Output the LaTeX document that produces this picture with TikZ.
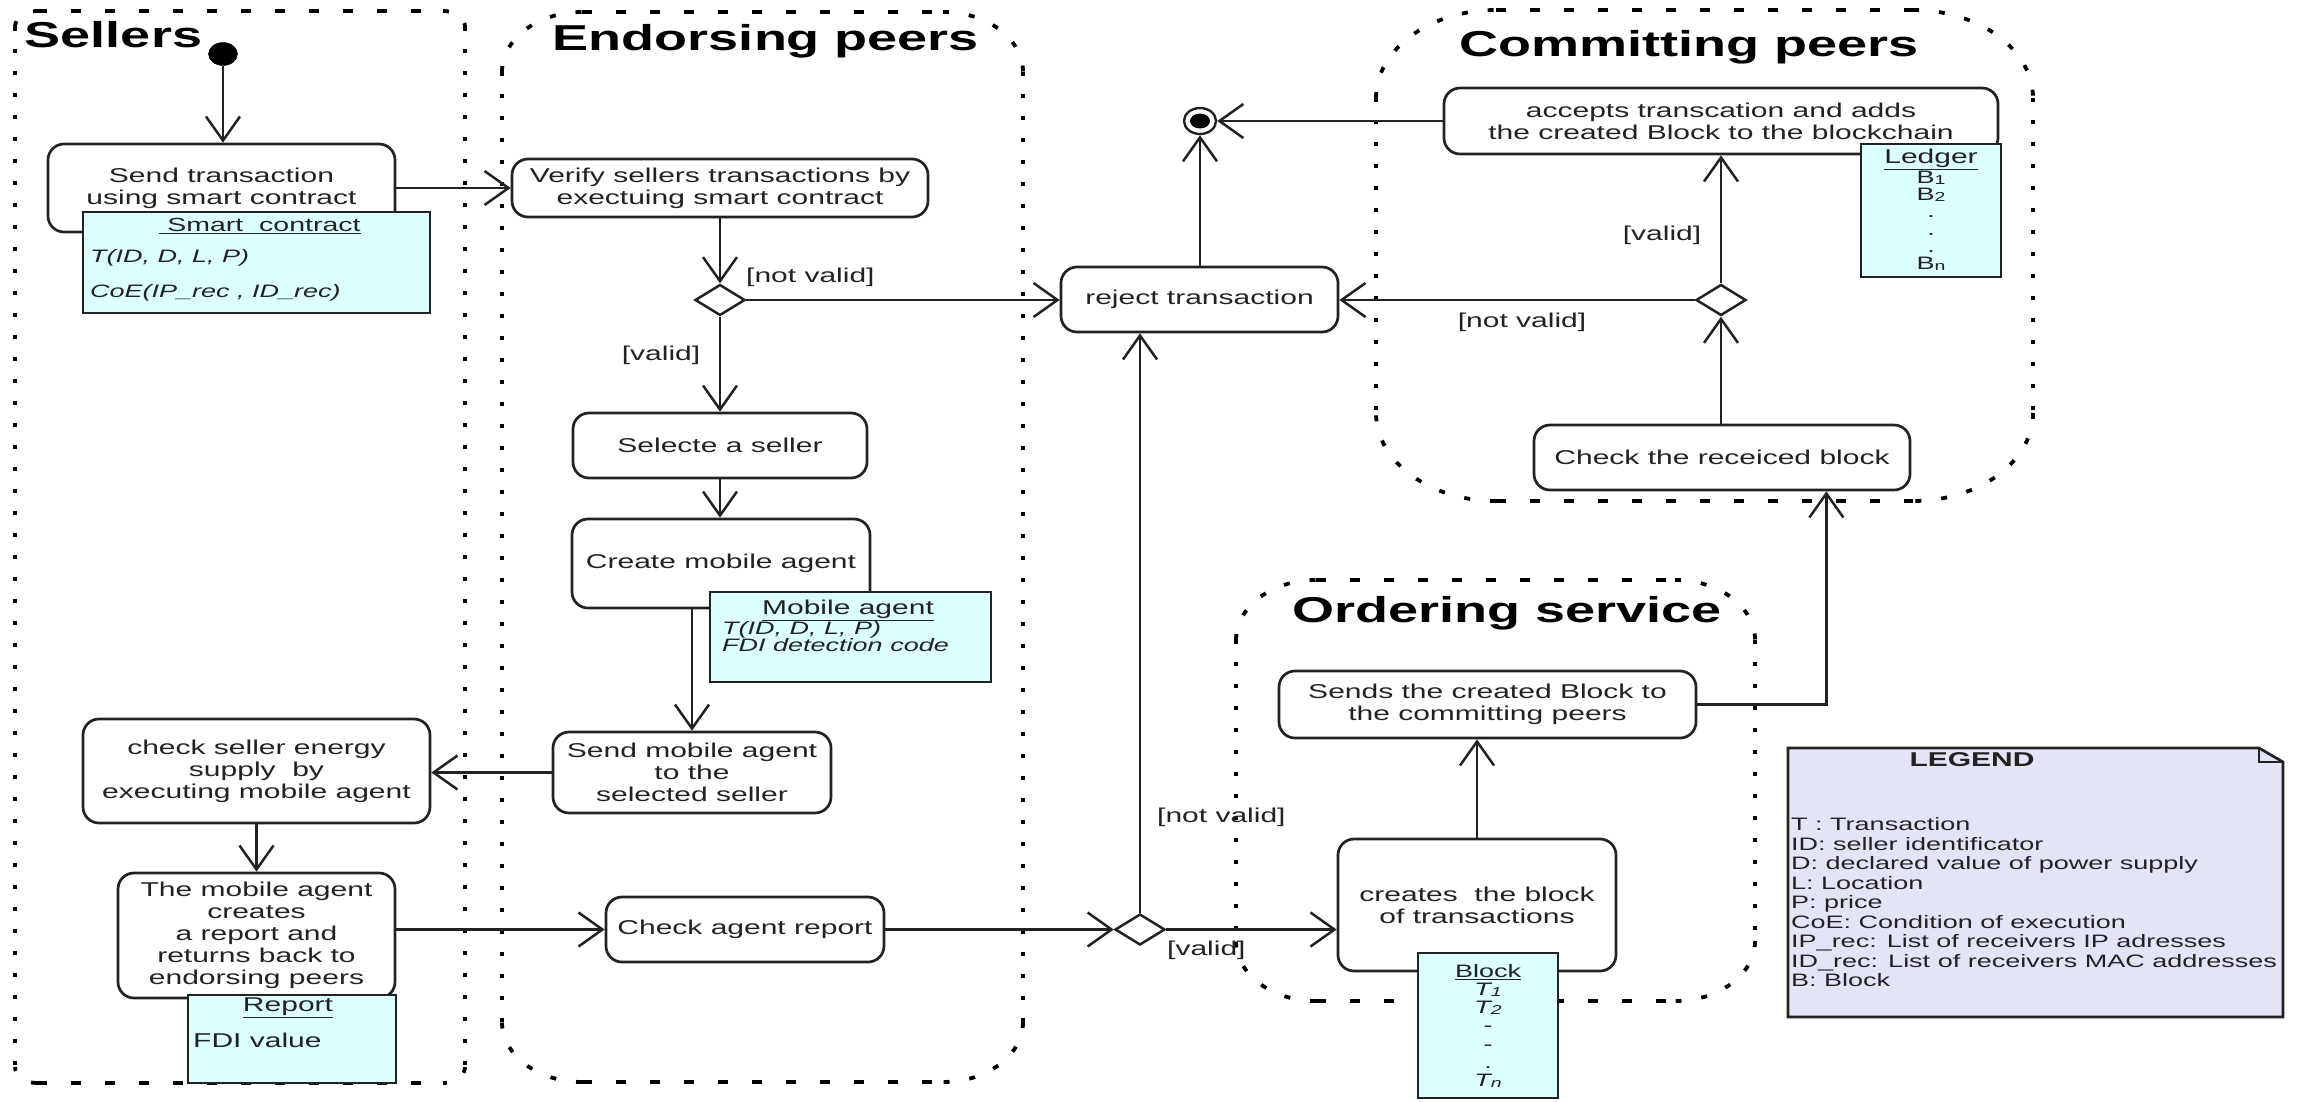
\documentclass[tikz,border=0pt]{standalone}
\usepackage{fontspec}
\setmainfont{Liberation Sans}[FakeStretch=1.5]
\usetikzlibrary{arrows.meta,shapes.geometric}
\definecolor{ink}{HTML}{222222}
\definecolor{notefill}{HTML}{DCFFFF}
\definecolor{legendfill}{HTML}{E4E4F8}
% lane frame: x1 y1 x2 y2 rx ry
\newcommand\myLaneFrame[6]{%
  \draw[lanev] (#1,#2+#6) -- (#1,#4-#6);
  \draw[lanev] (#3,#2+#6) -- (#3,#4-#6);
  \draw[laneh] (#1+#5,#2) -- (#3-#5,#2);
  \draw[laneh] (#1+#5,#4) -- (#3-#5,#4);
  \draw[lanec] (#1,#2+#6) arc[start angle=180,end angle=270,x radius=#5,y radius=#6];
  \draw[lanec] (#3-#5,#2) arc[start angle=270,end angle=360,x radius=#5,y radius=#6];
  \draw[lanec] (#3,#4-#6) arc[start angle=0,end angle=90,x radius=#5,y radius=#6];
  \draw[lanec] (#1+#5,#4) arc[start angle=90,end angle=180,x radius=#5,y radius=#6];
}
\begin{document}
\begin{tikzpicture}[x=1pt,y=-1pt,
  act/.style={draw=ink, line width=2.7pt, rounded corners=16pt, fill=white, inner sep=0pt,
    align=center, font=\fontsize{20}{22}\selectfont, text=ink},
  note/.style={draw=ink, line width=2.7pt, fill=notefill, inner sep=0pt},
  arr/.style={draw=ink, line width=2.5pt, -{Straight Barb[length=24pt,width=34pt,line width=2.5pt]}},
  lanev/.style={draw=black, line width=4pt, dash pattern=on 4pt off 18pt},
  laneh/.style={draw=black, line width=3.5pt, dash pattern=on 10pt off 24pt},
  lanec/.style={draw=black, line width=3.8pt, dash pattern=on 6pt off 20pt},
  lanetitle/.style={font=\fontsize{36}{40}\selectfont\bfseries, text=black, anchor=base, inner sep=0pt},
  guard/.style={font=\fontsize{20}{22}\selectfont, text=ink, inner sep=0pt},
  notetxt/.style={font=\fontsize{18}{17}\selectfont, text=ink, inner sep=0pt},
  notehead/.style={font=\fontsize{20}{20}\selectfont, text=ink, inner sep=0pt},
  dec/.style={diamond, draw=ink, line width=2.5pt, fill=white, minimum width=50pt,
    minimum height=31pt, inner sep=0pt, shape aspect=1.6},
  legtxt/.style={font=\fontsize{18}{19.5}\selectfont, text=ink, inner sep=0pt, align=left}
]
\useasboundingbox (0,0) rectangle (2298,1101);

% ---------- swimlanes ----------
\myLaneFrame{15}{11}{465}{1083}{22}{16}
\myLaneFrame{502}{12}{1023}{1082}{80}{60}
\myLaneFrame{1376}{10}{2033}{501}{120}{88}
\myLaneFrame{1236}{580}{1755}{1001}{80}{60}

\node[lanetitle] (tsell) at (113.5,47) {Sellers};
\node[lanetitle] (tend) at (766,50) {Endorsing peers};
\node[lanetitle] (tcom) at (1689,56) {Committing peers};
\node[lanetitle] (tord) at (1507,622) {Ordering service};

% ---------- activity nodes ----------
\node[ellipse, fill=black, draw=black, minimum width=29pt, minimum height=23pt, inner sep=0pt] (init) at (223,54) {};
\node[act, minimum width=347pt, minimum height=88pt] (send) at (221.5,188) {Send transaction\\using smart contract};
\node[act, minimum width=416pt, minimum height=58pt] (verify) at (720,188) {Verify sellers transactions by\\exectuing smart contract};
\node[dec] (d1) at (720,300) {};
\node[act, minimum width=294pt, minimum height=65pt] (selecte) at (720,445.5) {Selecte a seller};
\node[act, minimum width=298pt, minimum height=89pt] (create) at (721,563.5) {Create mobile agent};
\node[act, minimum width=278pt, minimum height=81pt] (sendma) at (692,772.5) {Send mobile agent\\to the\\selected seller};
\node[act, minimum width=347pt, minimum height=104pt] (checkseller) at (256.5,771) {check seller energy\\supply\ \ by\\executing mobile agent};
\node[act, minimum width=277pt, minimum height=125pt] (mobcreates) at (256.5,935.5) {The mobile agent\\creates\\a report and\\returns back to\\endorsing peers};
\node[act, minimum width=278pt, minimum height=65pt] (checkagent) at (745,929.5) {Check agent report};
\node[dec] (d2) at (1140,929.5) {};
\node[act, minimum width=277pt, minimum height=65pt] (reject) at (1199.5,299.5) {reject transaction};
\node[ellipse, draw=ink, line width=2.4pt, fill=white, minimum width=32pt, minimum height=26pt, inner sep=0pt] (final) at (1200,121) {};
\node[ellipse, fill=black, minimum width=20pt, minimum height=15pt, inner sep=0pt] (finaldot) at (1200,121) {};
\node[act, minimum width=554pt, minimum height=66pt] (accepts) at (1721,121) {accepts transcation and adds\\the created Block to the blockchain};
\node[dec] (d3) at (1721,300) {};
\node[act, minimum width=376pt, minimum height=65pt] (checkblock) at (1722,457.5) {Check the receiced block};
\node[act, minimum width=417pt, minimum height=67pt] (sends) at (1487.5,704.5) {Sends the created Block to\\the committing peers};
\node[act, minimum width=278pt, minimum height=132pt] (cblock) at (1477,905) {creates\ \ the block\\of transactions};

% ---------- notes ----------
\node[note, minimum width=347pt, minimum height=101pt] (smart) at (256.5,262.5) {};
\node[notehead, font=\fontsize{19}{19}\selectfont] (smarth) at (260,226) {\underline{\ Smart\ \ contract}};
\node[notetxt, anchor=west, font=\fontsize{18}{17}\selectfont\itshape] (smart1) at (90,258) {T(ID, D, L, P)};
\node[notetxt, anchor=west, font=\fontsize{18}{17}\selectfont\itshape] (smart2) at (90,293) {CoE(IP\_rec , ID\_rec)};

\node[note, minimum width=281pt, minimum height=90pt] (mobnote) at (850.5,637) {};
\node[notehead] (mobh) at (848,610) {\underline{Mobile agent}};
\node[notetxt, anchor=north west, align=left, font=\fontsize{18}{17}\selectfont\itshape] (mobbody) at (722,621) {T(ID, D, L, P)\\FDI detection code};

\node[note, minimum width=208pt, minimum height=88pt] (report) at (292,1039) {};
\node[notehead] (reph) at (288,1008) {\underline{Report}};
\node[notehead, anchor=west] (repbody) at (193,1040) {FDI value};

\node[note, minimum width=140pt, minimum height=133pt] (ledger) at (1931,210.5) {};
\node[notetxt, anchor=north, align=center, font=\fontsize{18}{17.3}\selectfont] (ledbody) at (1931,149)
  {\underline{\fontsize{20}{17.3}\selectfont Ledger}\\B\raisebox{-1pt}{\fontsize{13}{13}\selectfont 1}\\B\raisebox{-1pt}{\fontsize{13}{13}\selectfont 2}\\.\\.\\.\\B\raisebox{-1pt}{\fontsize{13}{13}\selectfont n}};

\node[note, minimum width=140pt, minimum height=145pt] (blocknote) at (1488,1025.5) {};
\node[notetxt, anchor=north, align=center, font=\fontsize{18}{18.2}\selectfont] (blockbody) at (1488,964)
  {\underline{Block}\\\textit{T\raisebox{-1pt}{\fontsize{13}{13}\selectfont 1}}\\\textit{T\raisebox{-1pt}{\fontsize{13}{13}\selectfont 2}}\\-\\-\\.\\\textit{T\raisebox{-1pt}{\fontsize{13}{13}\selectfont n}}};

% ---------- legend ----------
\draw[ink, line width=2.7pt, fill=legendfill] (1788,748) -- (2259,748) -- (2283,762) -- (2283,1017) -- (1788,1017) -- cycle;
\draw[ink, line width=2pt] (2259,748) -- (2259,762) -- (2283,762);
\node[font=\fontsize{20}{22}\selectfont\bfseries, text=ink, inner sep=0pt] (legh) at (1972,760) {LEGEND};
\node[legtxt, anchor=north west] (legbody) at (1791,817.5) {T : Transaction\\ID: seller identificator\\D: declared value of power supply\\L: Location\\P: price\\CoE: Condition of execution\\IP\_rec: List of receivers IP adresses\\ID\_rec: List of receivers MAC addresses\\B: Block};

% ---------- connectors ----------
\draw[arr] (init.south) -- (init.south |- send.north);
\draw[arr] (send.east) -- (verify.west);
\draw[arr] (verify.south) -- (d1.north);
\draw[arr] (d1.east) -- (d1.east -| reject.west);
\draw[arr] (d1.south) -- (selecte.north);
\draw[arr] (selecte.south) -- (selecte.south |- create.north);
\draw[arr] (create.south -| sendma.north) -- (sendma.north);
\draw[arr] (sendma.west) -- (sendma.west -| checkseller.east);
\draw[arr] (checkseller.south) -- (mobcreates.north);
\draw[arr] (mobcreates.east |- checkagent.west) -- (checkagent.west);
\draw[arr] (checkagent.east) -- (d2.west);
\draw[arr] (d2.north) -- (d2.north |- reject.south);
\draw[arr] (d2.east) -- (d2.east -| cblock.west);
\draw[arr] (cblock.north) -- (cblock.north |- sends.south);
\draw[arr] (sends.east) -| ([xshift=-85pt]checkblock.south east);
\draw[arr] (checkblock.north -| d3.south) -- (d3.south);
\draw[arr] (d3.west) -- (d3.west -| reject.east);
\draw[arr] (d3.north) -- (d3.north |- accepts.south);
\draw[arr] (accepts.west |- final.east) -- (final.east);
\draw[arr] (reject.north -| final.south) -- (final.south);

% ---------- guards ----------
\node[guard, anchor=west] (g1) at (746,277) {[not valid]};
\node[guard] (g2) at (661,355) {[valid]};
\node[guard, anchor=west] (g3) at (1157,817) {[not valid]};
\node[guard, anchor=west] (g4) at (1167,950) {[valid]};
\node[guard] (g5) at (1662,235) {[valid]};
\node[guard] (g6) at (1522,322) {[not valid]};
\end{tikzpicture}
\end{document}
